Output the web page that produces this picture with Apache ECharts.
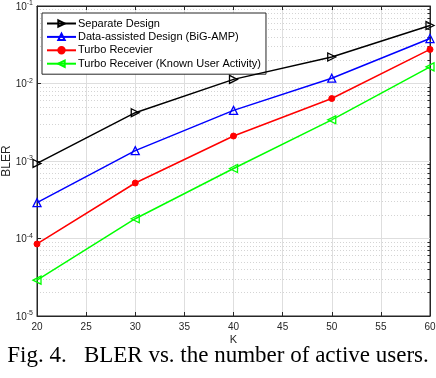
<!DOCTYPE html>
<html>
<head>
<meta charset="utf-8">
<script src="https://cdn.jsdelivr.net/npm/echarts@6/dist/echarts.min.js"></script>
<style>
  html, body { margin: 0; padding: 0; background: #fff; }
  #chart { width: 436px; height: 378px; }
</style>
</head>
<body>
<div id="chart"></div>
<script>
  // values
  var kValues = [20, 30, 40, 50, 60]
  var separateDesign = [9.3e-4, 4.2e-3, 1.13e-2, 2.2e-2, 5.6e-2]
  var dataAssisted = [2.9e-4, 1.36e-3, 4.5e-3, 1.17e-2, 3.8e-2]
  var turboReceiver = [8.5e-5, 5.2e-4, 2.1e-3, 6.4e-3, 2.75e-2]
  var turboKnown = [2.9e-5, 1.8e-4, 8.0e-4, 3.4e-3, 1.64e-2]
  var seriesNames = ['Separate Design', 'Data-assisted Design (BiG-AMP)', 'Turbo Recevier', 'Turbo Receiver (Known User Activity)']
  var minorTicks = []
  ;[1e-5, 1e-4, 1e-3, 1e-2].forEach(function (d) {
    for (var m = 2; m <= 9; m++) minorTicks.push(+(d * m).toPrecision(3))
  })

  function pairs(ys) {
    return kValues.map(function (k, i) { return [k, ys[i]] })
  }

  function makeSeries(name, ys, color, symbol, rotate, filled) {
    return {
      name: name,
      type: 'line',
      data: pairs(ys),
      yAxisIndex: 0,
      symbol: symbol,
      symbolRotate: rotate,
      symbolSize: filled ? 6 : 8,
      showAllSymbol: true,
      lineStyle: { color: color, width: 1.5 },
      itemStyle: filled
        ? { color: color, borderColor: color, borderWidth: 1 }
        : { color: 'rgba(255,255,255,0)', borderColor: color, borderWidth: 1.3 },
      emphasis: { disabled: true },
      z: 5
    }
  }

  var chart = echarts.init(document.getElementById('chart'))
  chart.setOption({
    animation: false,
    backgroundColor: '#fff',
    textStyle: { fontFamily: 'Liberation Sans' },
    title: {
      text: 'Fig. 4.   BLER vs. the number of active users.',
      left: 'center',
      top: 344,
      padding: 0,
      textStyle: {
        fontFamily: 'Liberation Serif',
        fontWeight: 'normal',
        fontSize: 23,
        color: '#000'
      }
    },
    legend: {
      orient: 'vertical',
      left: 42,
      top: 13,
      padding: [5, 5, 5, 4],
      itemWidth: 29,
      itemHeight: 8,
      itemGap: 2.4,
      backgroundColor: '#fff',
      borderColor: '#262626',
      borderWidth: 1,
      data: seriesNames,
      textStyle: { fontSize: 11, color: '#000', padding: [0, 0, 0, -3], lineHeight: 11 }
    },
    grid: {
      left: 37,
      right: 6,
      top: 6,
      bottom: 62,
      containLabel: false,
      outerBoundsMode: 'none',
      show: true,
      borderColor: '#262626',
      borderWidth: 1
    },
    xAxis: [{
      type: 'value',
      min: 20,
      max: 60,
      interval: 5,
      name: 'K',
      nameLocation: 'middle',
      nameGap: 18,
      nameMoveOverlap: false,
      nameTextStyle: { fontSize: 11, color: '#262626' },
      axisLine: { lineStyle: { color: '#262626' } },
      axisTick: { inside: true, length: 4, lineStyle: { color: '#262626' } },
      axisLabel: { fontSize: 10, color: '#262626', margin: 6 },
      splitLine: { show: true, lineStyle: { color: '#dedede', width: 1 } }
    }, {
      type: 'value',
      position: 'top',
      min: 20,
      max: 60,
      interval: 5,
      axisLine: { lineStyle: { color: '#262626' } },
      axisTick: { inside: true, length: 4, lineStyle: { color: '#262626' } },
      axisLabel: { show: false },
      splitLine: { show: false }
    }],
    yAxis: [{
      type: 'log',
      logBase: 10,
      min: 1e-5,
      max: 1e-1,
      name: 'BLER',
      nameLocation: 'middle',
      nameGap: 24,
      nameMoveOverlap: false,
      nameTextStyle: { fontSize: 12, color: '#262626' },
      axisLine: { lineStyle: { color: '#262626' } },
      axisTick: { inside: true, length: 4, lineStyle: { color: '#262626' } },
      axisLabel: {
        margin: 4,
        formatter: function (v) {
          var e = Math.round(Math.log10(v))
          return '{b|10}{s|' + e + '}'
        },
        rich: {
          b: { fontSize: 10, color: '#262626', verticalAlign: 'bottom', lineHeight: 12 },
          s: { fontSize: 7, color: '#262626', verticalAlign: 'top', lineHeight: 12, padding: [0, 0, 5, 0] }
        }
      },
      splitLine: { show: true, lineStyle: { color: '#dedede', width: 1 } }
    }, {
      type: 'log',
      logBase: 10,
      position: 'right',
      min: 1e-5,
      max: 1e-1,
      axisLine: { show: true, lineStyle: { color: '#262626' } },
      axisTick: { inside: true, length: 2.5, customValues: minorTicks, lineStyle: { color: '#262626' } },
      axisLabel: { show: false },
      splitLine: { show: true, lineStyle: { color: '#d4d4d4', width: 1, type: [1, 2] } }
    }],
    series: [
      makeSeries(seriesNames[0], separateDesign, '#000000', 'triangle', -90, false),
      makeSeries(seriesNames[1], dataAssisted, '#0000ff', 'triangle', 0, false),
      makeSeries(seriesNames[2], turboReceiver, '#ff0000', 'circle', 0, true),
      makeSeries(seriesNames[3], turboKnown, '#00ff00', 'triangle', 90, false)
    ]
  })
</script>
</body>
</html>
